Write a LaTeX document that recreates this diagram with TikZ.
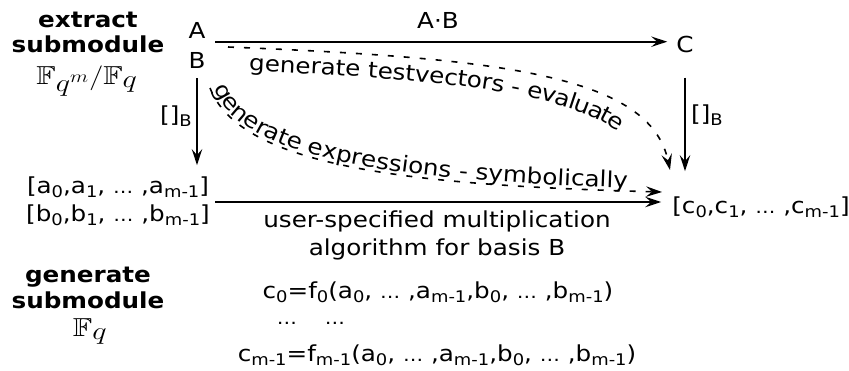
\documentclass[tikz,border=0pt]{standalone}
\usepackage{fontspec}
\usepackage{amssymb}
\usepackage{graphicx}
\setmainfont{DejaVu Sans}[FakeStretch=1.12]
\usetikzlibrary{decorations.text,arrows.meta}
\newcommand{\sbx}[1]{\raisebox{-4.5pt}{\fontsize{16}{16}\selectfont #1}}
\newcommand{\ellp}{{\fontsize{18}{18}\selectfont …}}
\newcommand{\dfont}{\fontsize{22}{26}\selectfont}
\newcommand{\wmath}[1]{\scalebox{1.22}[1]{$#1$}}
\tikzset{
  txt/.style={inner sep=0pt, font=\dfont},
  hd/.style={inner sep=0pt, font=\dfont\bfseries},
  mth/.style={inner sep=0pt, font=\fontsize{26}{30}\selectfont},
  arr/.style={line width=1.6pt, -{Stealth[length=16pt,width=10.5pt,inset=6pt]}},
  dsh/.style={arr, dash pattern=on 6pt off 10pt},
}
\begin{document}
\begin{tikzpicture}[x=1pt,y=-1pt]
\useasboundingbox (0,0) rectangle (849,370);
% left headings
\node[hd, anchor=base] (ext) at (88,27) {extract};
\node[hd, anchor=base] (sub1) at (88,52) {submodule};
\node[mth, anchor=base] (fqm) at (87,84) {\wmath{\mathbb{F}_{\textstyle q^{m}}/\mathbb{F}_{\textstyle q}}};
\node[hd, anchor=base] (gen) at (88,282) {generate};
\node[hd, anchor=base] (sub2) at (88,308) {submodule};
\node[mth, anchor=base] (fq) at (90,336) {\wmath{\mathbb{F}_{\textstyle q}}};
% A, B, C
\node[txt, anchor=base] (A) at (197,38) {A};
\node[txt, anchor=base] (B) at (197,68) {B};
\node[txt, anchor=base] (C) at (685,52) {C};
\node[txt, anchor=base] (AB) at (438,28) {A·B};
% vectors
\node[txt, anchor=base] (avec) at (118,193) {[a\sbx{0},a\sbx{1}, \ellp{} ,a\sbx{m-1}]};
\node[txt, anchor=base] (bvec) at (118,221) {[b\sbx{0},b\sbx{1}, \ellp{} ,b\sbx{m-1}]};
\node[txt, anchor=base] (cvec) at (761,213) {[c\sbx{0},c\sbx{1}, \ellp{} ,c\sbx{m-1}]};
% labels
\node[txt, anchor=base] (lb1) at (176,122) {[]\sbx{B}};
\node[txt, anchor=base] (lb2) at (707,121) {[]\sbx{B}};
\node[txt, anchor=base] (us1) at (437,227) {user-specified multiplication};
\node[txt, anchor=base] (us2) at (437,255) {algorithm for basis B};
\node[txt, anchor=base] (f0) at (438,298) {c\sbx{0}=f\sbx{0}(a\sbx{0}, \ellp{} ,a\sbx{m-1},b\sbx{0}, \ellp{} ,b\sbx{m-1})};
\node[txt, anchor=base] (dots) at (311,324) {\ellp\hspace{28pt}\ellp};
\node[txt, anchor=base] (fm) at (437,361) {c\sbx{m-1}=f\sbx{m-1}(a\sbx{0}, \ellp{} ,a\sbx{m-1},b\sbx{0}, \ellp{} ,b\sbx{m-1})};
% connectors
\coordinate (top) at (215,41.7);
\draw[arr, shorten >=9pt] (top) -- (C.west |- top);
\draw[arr, shorten <=10pt, shorten >=11pt] (B.south) -- (B.south |- avec.north);
\draw[arr, shorten <=25pt, shorten >=25pt] (C.south) -- (C.south |- cvec.north);
\coordinate (bot) at (215,202);
\draw[arr, shorten >=11pt] (bot) -- (cvec.west |- bot);
% dashed curves
\coordinate (t1s) at (228,47);
\coordinate (t1e) at (670,170);
\draw[dsh] (t1s) .. controls (500,58) and (650,75) .. (t1e);
\path[decorate, decoration={text along path, raise=-23pt,
  text align={left indent=22pt},
  text={|\dfont|generate testvectors - evaluate}}]
  (t1s) .. controls (500,58) and (650,75) .. (t1e);
\coordinate (t2s) at (210,88);
\coordinate (t2e) at (662,192);
\draw[dsh] (t2s) .. controls (240,165) and (400,185) .. (t2e);
\path[decorate, decoration={text along path, raise=3pt,
  text align={left indent=2pt},
  text={|\dfont|generate expressions - symbolically}}]
  (t2s) .. controls (240,165) and (400,185) .. (t2e);
\end{tikzpicture}
\end{document}
